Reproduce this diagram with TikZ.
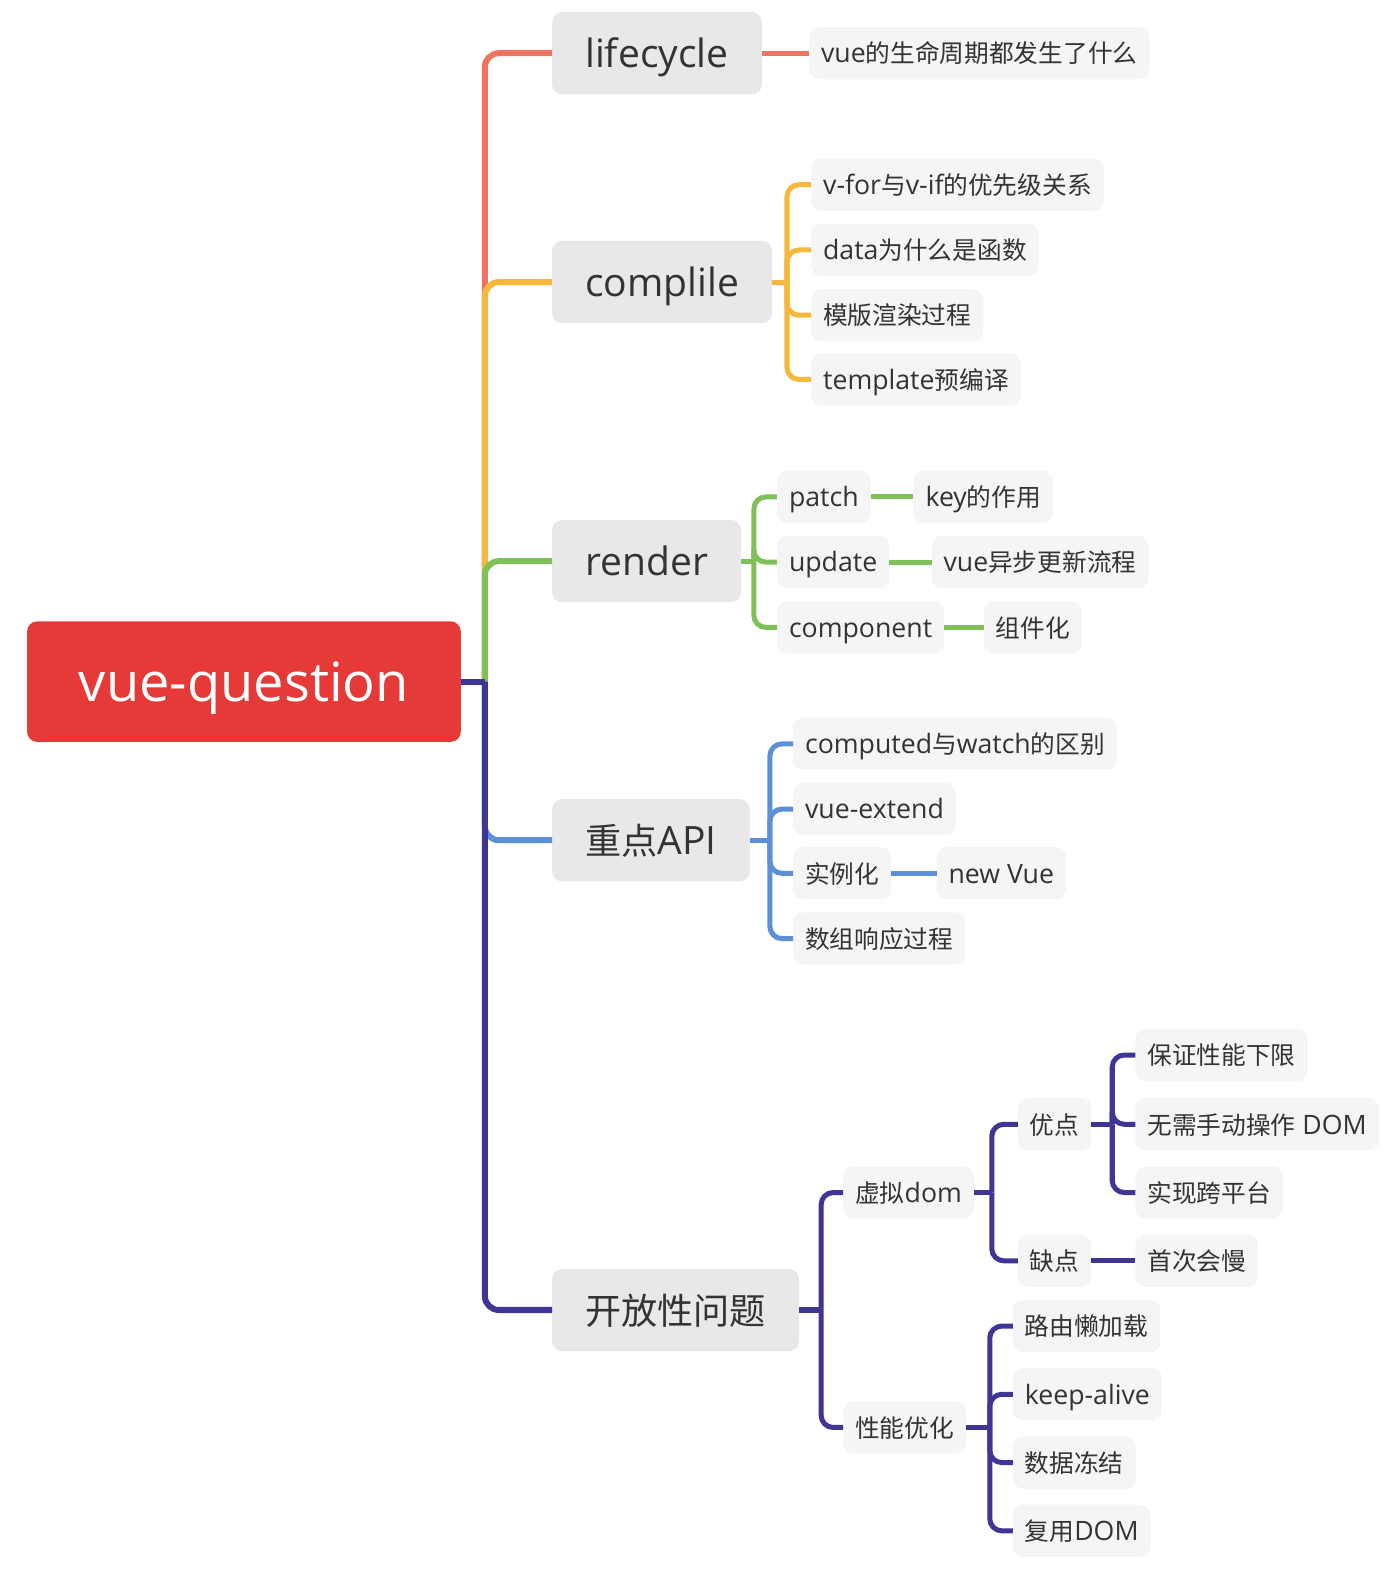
\documentclass[tikz,border=0pt]{standalone}
\usepackage{fontspec}
\setmainfont[Scale=1.08]{Open Sans}
\newfontfamily\cjk{Noto Sans CJK SC}
\usepackage{tikz}

\begin{document}
\begin{tikzpicture}[x=0.5pt, y=-0.5pt,
    %Boxes of the map
    inner sep=0pt, outer sep=0pt,%
    rootbox/.style={fill=rootred, text=white, rounded corners=5pt,
        minimum width=216pt, minimum height=60pt, font=\fontsize{25}{30}\selectfont,
        text height=22.5pt, text depth=2.5pt},
    topic/.style={fill=topicgray, text=textdark, rounded corners=5pt, anchor=west,
        inner xsep=16.5pt, minimum height=41pt, font=\fontsize{18}{22}\selectfont,
        text height=16.2pt, text depth=1.8pt},
    leaf/.style={fill=leafgray, text=textdark, rounded corners=5pt, anchor=west,
        inner xsep=6pt, minimum height=26pt, font=\fontsize{12.3}{15}\selectfont,
        text height=11pt, text depth=1.3pt},
    branch/.style={line width=3pt, color=#1, rounded corners=7pt},
    twig/.style={line width=2.5pt, color=#1, rounded corners=6pt},
]
    % Colors
    \definecolor{rootred}{HTML}{E53A37}
    \definecolor{topicgray}{HTML}{E8E8E8}
    \definecolor{leafgray}{HTML}{F5F5F5}
    \definecolor{textdark}{HTML}{333333}
    \definecolor{lifered}{HTML}{EE7462}
    \definecolor{compyellow}{HTML}{F6B73D}
    \definecolor{rendergreen}{HTML}{80C05B}
    \definecolor{apiblue}{HTML}{5B8FD7}
    \definecolor{openpurple}{HTML}{3E3594}

    \useasboundingbox (0,0) rectangle (1386,1570);

    % Root
    \node[rootbox] (root) at (243,679) {vue-question};
    \coordinate (rj) at (483,679);

    % Main topics
    \node[topic] (life)   at (550,53)   {lifecycle};
    \node[topic] (comp)   at (550,281)  {complile};
    \node[topic] (render) at (550,559)  {render};
    \node[topic] (api)    at (550,837)  {{\cjk 重点}API};
    \node[topic] (open)   at (550,1305) {\cjk 开放性问题};

    \foreach \t/\c in {life/lifered, comp/compyellow, render/rendergreen,
                       api/apiblue, open/openpurple}
        \draw[branch=\c] (rj) |- (\t.west);
    \draw[branch=openpurple] (root.east) -- (rj);

    %lifecycle
    \node[leaf] (life1) at (806,53) {vue{\cjk 的生命周期都发生了什么}};
    \draw[twig=lifered] (life) -- (life1);

    %complile
    \node[leaf] (comp1) at (808,184) {v-for{\cjk 与}v-if{\cjk 的优先级关系}};
    \node[leaf] (comp2) at (808,249) {data{\cjk 为什么是函数}};
    \node[leaf] (comp3) at (808,314) {\cjk 模版渲染过程};
    \node[leaf] (comp4) at (808,378) {template{\cjk 预编译}};
    \coordinate (cj) at (784,281);
    \draw[twig=compyellow] (comp) -- (cj);
    \foreach \n in {1,...,4}
        \draw[twig=compyellow] (cj) |- (comp\n.west);

    %render
    \node[leaf] (patch)  at (774,495) {patch};
    \node[leaf] (update) at (774,560) {update};
    \node[leaf] (compo)  at (774,625) {component};
    \node[leaf] (key)    at (910,495) {key{\cjk 的作用}};
    \node[leaf] (async)  at (928,560) {vue{\cjk 异步更新流程}};
    \node[leaf] (comps)  at (980,625) {\cjk 组件化};
    \coordinate (gj) at (751,559);
    \draw[twig=rendergreen] (render) -- (gj);
    \foreach \n in {patch,update,compo}
        \draw[twig=rendergreen] (gj) |- (\n.west);
    \draw[twig=rendergreen] (patch) -- (key);
    \draw[twig=rendergreen] (update) -- (async);
    \draw[twig=rendergreen] (compo) -- (comps);

    %重点API
    \node[leaf] (api1) at (790,741) {computed{\cjk 与}watch{\cjk 的区别}};
    \node[leaf] (api2) at (790,806) {vue-extend};
    \node[leaf] (api3) at (790,870) {\cjk 实例化};
    \node[leaf] (api4) at (790,935) {\cjk 数组响应过程};
    \node[leaf] (newv) at (933,870) {new Vue};
    \coordinate (bj) at (767,837);
    \draw[twig=apiblue] (api) -- (bj);
    \foreach \n in {1,...,4}
        \draw[twig=apiblue] (bj) |- (api\n.west);
    \draw[twig=apiblue] (api3) -- (newv);

    %开放性问题
    \node[leaf] (vdom) at (840,1188) {{\cjk 虚拟}dom};
    \node[leaf] (perf) at (840,1422) {\cjk 性能优化};
    \coordinate (pj) at (818,1305);
    \draw[twig=openpurple] (open) -- (pj);
    \draw[twig=openpurple] (pj) |- (vdom.west);
    \draw[twig=openpurple] (pj) |- (perf.west);

    % virtual dom
    \node[leaf] (pro) at (1014,1120) {\cjk 优点};
    \node[leaf] (con) at (1014,1256) {\cjk 缺点};
    \coordinate (vj) at (988,1188);
    \draw[twig=openpurple] (vdom) -- (vj);
    \draw[twig=openpurple] (vj) |- (pro.west);
    \draw[twig=openpurple] (vj) |- (con.west);

    \node[leaf] (pro1) at (1131,1051) {\cjk 保证性能下限};
    \node[leaf] (pro2) at (1131,1120) {{\cjk 无需手动操作} DOM};
    \node[leaf] (pro3) at (1131,1188) {\cjk 实现跨平台};
    \coordinate (oj) at (1108,1120);
    \draw[twig=openpurple] (pro) -- (oj);
    \foreach \n in {1,2,3}
        \draw[twig=openpurple] (oj) |- (pro\n.west);
    \node[leaf] (con1) at (1131,1256) {\cjk 首次会慢};
    \draw[twig=openpurple] (con) -- (con1);

    % performance
    \node[leaf] (perf1) at (1009,1321) {\cjk 路由懒加载};
    \node[leaf] (perf2) at (1009,1389) {keep-alive};
    \node[leaf] (perf3) at (1009,1457) {\cjk 数据冻结};
    \node[leaf] (perf4) at (1009,1525) {{\cjk 复用}DOM};
    \coordinate (fj) at (986,1422);
    \draw[twig=openpurple] (perf) -- (fj);
    \foreach \n in {1,...,4}
        \draw[twig=openpurple] (fj) |- (perf\n.west);
\end{tikzpicture}
\end{document}
